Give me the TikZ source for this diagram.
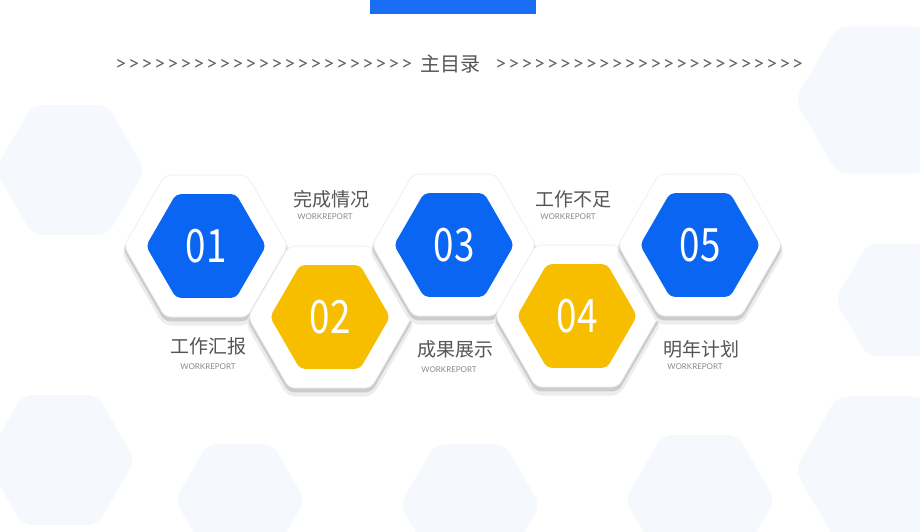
\documentclass[tikz,border=0pt]{standalone}
\usepackage{fontspec}
\setmainfont{Noto Sans CJK SC}
\newfontfamily\numfont[FakeStretch=0.8]{Noto Sans CJK SC}
\newfontfamily\latfont{Lato}
\usetikzlibrary{shapes.geometric}
\definecolor{hexblue}{HTML}{0A66F2}
\definecolor{hexyellow}{HTML}{F7BE00}
\definecolor{barblue}{HTML}{1A6DF2}
\definecolor{bgpale}{HTML}{E3EDF9}
\definecolor{txtgrey}{HTML}{555555}
\definecolor{chevgrey}{HTML}{666666}
\definecolor{subgrey}{HTML}{8A8A8A}
\tikzset{
  hexshape/.style={regular polygon, regular polygon sides=6, inner sep=0pt, outer sep=0pt, draw=none},
  outerhex/.style={hexshape, minimum size=164pt, fill=white, draw=black!8, line width=0.6pt, rounded corners=6pt},
  hexshadow/.style={hexshape, minimum size=166pt, fill=black!20, rounded corners=6pt},
  hexshadowsoft/.style={hexshape, minimum size=170pt, fill=black!7, rounded corners=8pt},
  innerhex/.style={hexshape, minimum size=120pt, rounded corners=5pt, text=white, font=\numfont\fontsize{46}{46}\selectfont},
  bghex/.style={hexshape, fill=bgpale, opacity=0.35, rounded corners=10pt},
  title/.style={text=txtgrey, font=\fontsize{19}{19}\selectfont, inner sep=0pt},
  sub/.style={text=subgrey, font=\latfont\fontsize{8}{8}\selectfont, inner sep=0pt},
  chev/.style={text=chevgrey, font=\latfont\fontsize{20}{20}\selectfont, inner sep=0pt}
}
\begin{document}
\begin{tikzpicture}[x=1pt,y=-1pt]
\useasboundingbox (0,0) rectangle (920,532);
\fill[white] (0,0) rectangle (920,532);
% faint background hexagons
\node[bghex, minimum size=150pt] (bg1) at (70,170) {};
\node[bghex, minimum size=170pt] (bg2) at (880,100) {};
\node[bghex, minimum size=130pt] (bg3) at (900,300) {};
\node[bghex, minimum size=150pt] (bg4) at (60,460) {};
\node[bghex, minimum size=130pt] (bg5) at (240,500) {};
\node[bghex, minimum size=140pt] (bg6) at (470,505) {};
\node[bghex, minimum size=150pt] (bg7) at (700,500) {};
\node[bghex, minimum size=170pt] (bg8) at (880,470) {};
% top bar
\fill[barblue] (370,0) rectangle (536,14);
% heading
\node[text=txtgrey, font=\fontsize{20}{20}\selectfont, inner sep=0pt] (head) at (450,64) {主目录};
\foreach \i in {0,...,22} {
  \node[chev] (cl\i) at ({121+13.0*\i},65) {>};
}
\foreach \i in {0,...,23} {
  \node[chev] (cr\i) at ({501+12.9*\i},65) {>};
}
% hexagons
\foreach \n/\cx/\cy/\col in {1/206/246/hexblue, 2/330/317/hexyellow, 3/454/245/hexblue, 4/577/316/hexyellow, 5/700/245/hexblue} {
  \node[hexshadowsoft] (ss\n) at (\cx,\cy+6) {};
  \node[hexshadow] (sh\n) at (\cx,\cy+3.5) {};
  \node[outerhex] (oh\n) at (\cx,\cy) {};
  \node[innerhex, fill=\col] (ih\n) at (\cx,\cy) {0\n};
}
% labels
\node[title] (t1) at (331,199) {完成情况};
\node[sub] (s1) at (325,217) {WORKREPORT};
\node[title] (t3) at (573,199) {工作不足};
\node[sub] (s3) at (568,217) {WORKREPORT};
\node[title] (t0) at (208,346) {工作汇报};
\node[sub] (s0) at (208,367) {WORKREPORT};
\node[title] (t2) at (455,349) {成果展示};
\node[sub] (s2) at (449,370) {WORKREPORT};
\node[title] (t4) at (701,349) {明年计划};
\node[sub] (s4) at (695,367) {WORKREPORT};
\end{tikzpicture}
\end{document}
